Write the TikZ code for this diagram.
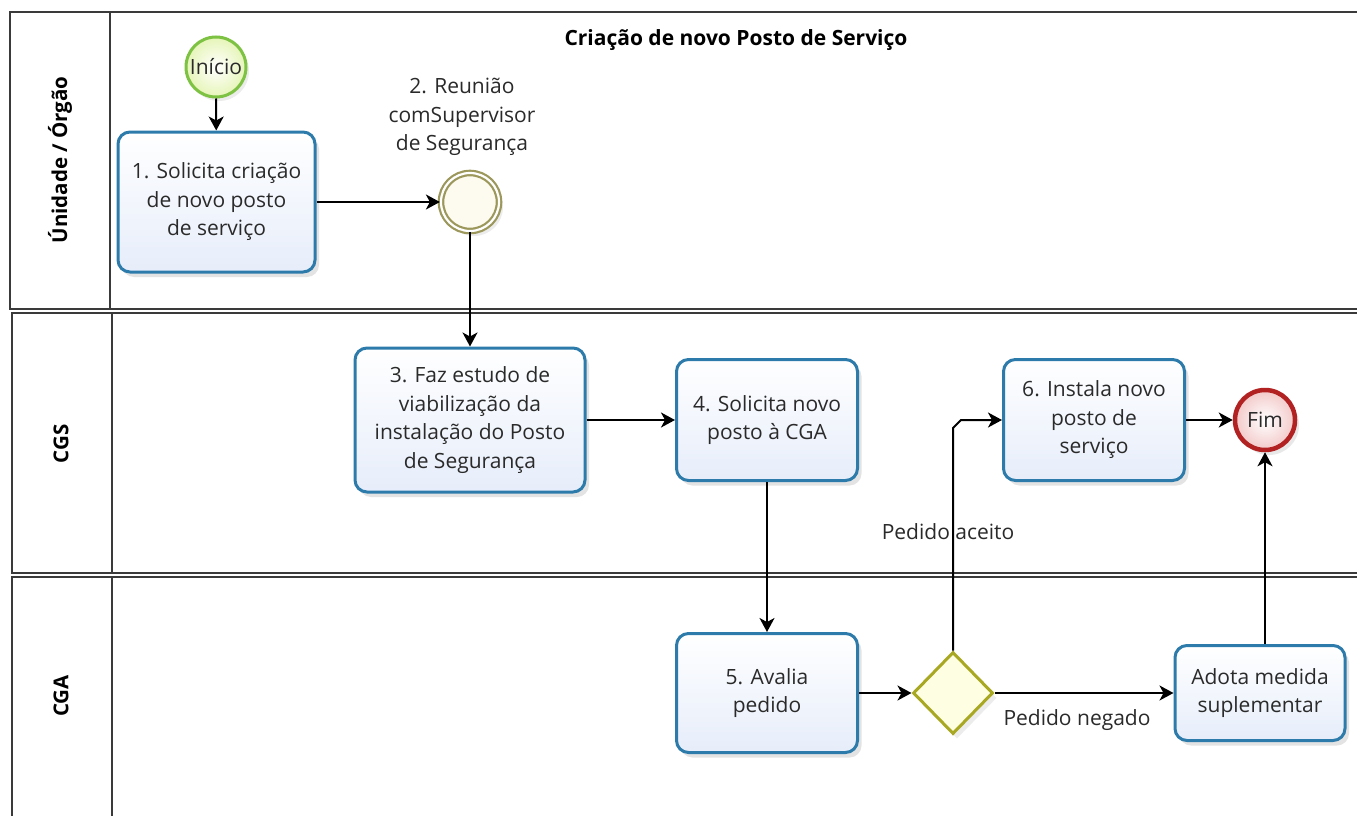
\documentclass[tikz,border=0pt]{standalone}
\usepackage{fontspec}
\setmainfont{Open Sans}
\usetikzlibrary{shapes.geometric,arrows.meta,shadows}
\definecolor{lane}{HTML}{3A3A3A}
\definecolor{taskdraw}{HTML}{2C7BAA}
\definecolor{taskfill}{HTML}{E6EDFA}
\definecolor{startdraw}{HTML}{7DC242}
\definecolor{startfill}{HTML}{E6F5B8}
\definecolor{enddraw}{HTML}{B22222}
\definecolor{endfill}{HTML}{F3C9C9}
\definecolor{interdraw}{HTML}{9C975A}
\definecolor{interfill}{HTML}{FDFAEF}
\definecolor{gwdraw}{HTML}{A8A823}
\definecolor{gwfill}{HTML}{FEFEE2}
\definecolor{txt}{HTML}{2A2A2A}
\tikzset{
  lanebox/.style={draw=lane, line width=2pt},
  lanelabel/.style={rotate=90, font=\fontsize{20.5}{22}\selectfont\bfseries, text=black},
  task/.style={draw=taskdraw, line width=3pt, rounded corners=12pt, top color=white, bottom color=taskfill,
    align=center, text=txt, font=\fontsize{21}{28.5}\selectfont, inner sep=0pt,
    drop shadow={opacity=0.22, shadow xshift=4pt, shadow yshift=-5pt}},
  flow/.style={draw=black, line width=2pt, -{Stealth[length=14pt,width=15pt,inset=4pt]}},
  lbl/.style={text=txt, font=\fontsize{21}{28.5}\selectfont, align=center},
}
\begin{document}
\begin{tikzpicture}[x=1pt,y=-1pt]
\useasboundingbox (0,0) rectangle (1357,816);
\fill[white] (0,0) rectangle (1357,816);
% lanes
\draw[lanebox] (1370,12) -- (10,12) -- (10,309) -- (1370,309);
\draw[lanebox] (110,12) -- (110,309);
\draw[lanebox] (1370,313) -- (12,313) -- (12,573) -- (1370,573);
\draw[lanebox] (112,313) -- (112,573);
\draw[lanebox] (1370,577) -- (12,577) -- (12,830);
\draw[lanebox] (112,577) -- (112,830);
\node[lanelabel] (l1) at (60,160) {Únidade / Órgão};
\node[lanelabel] (l2) at (61,444) {CGS};
\node[lanelabel] (l3) at (61,696) {CGA};
\node[font=\fontsize{21}{22}\selectfont\bfseries, text=black] (title) at (736,40) {Criação de novo Posto de Serviço};
% events
\node[circle, draw=startdraw, line width=3pt, inner color=white, outer color=startfill, minimum size=60pt, inner sep=0pt,
  font=\fontsize{21}{24}\selectfont, text=txt, drop shadow={opacity=0.15, shadow xshift=3pt, shadow yshift=-4pt}] (start) at (216,67) {Início};
\node[circle, draw=interdraw, line width=2.2pt, double=white, double distance=2.2pt, fill=interfill, minimum size=58pt, inner sep=0pt,
  drop shadow={opacity=0.15, shadow xshift=4pt, shadow yshift=-5pt}] (ev2) at (470,202) {};
\node[lbl] (ev2l) at (462,117) {2. Reunião\\comSupervisor\\de Segurança};
\node[circle, draw=enddraw, line width=4.5pt, inner color=white, outer color=endfill, minimum size=60pt, inner sep=0pt,
  font=\fontsize{21}{24}\selectfont, text=txt, drop shadow={opacity=0.18, shadow xshift=4pt, shadow yshift=-5pt}] (fim) at (1265,420) {Fim};
% tasks
\node[task, minimum width=197pt, minimum height=140pt] (t1) at (216.5,202) {1. Solicita criação\\de novo posto\\de serviço};
\node[task, minimum width=230pt, minimum height=144pt] (t3) at (470,420) {3. Faz estudo de\\viabilização da\\instalação do Posto\\de Segurança};
\node[task, minimum width=181pt, minimum height=121pt] (t4) at (767,420) {4. Solicita novo\\posto à CGA};
\node[task, minimum width=181pt, minimum height=119pt] (t5) at (767,693) {5. Avalia\\pedido};
\node[task, minimum width=181pt, minimum height=121pt] (t6) at (1094,420) {6. Instala novo\\posto de\\serviço};
\node[task, minimum width=170pt, minimum height=95pt] (t7) at (1260,693) {Adota medida\\suplementar};
% gateway
\node[diamond, draw=gwdraw, line width=3pt, fill=gwfill, minimum width=80pt, minimum height=82pt, inner sep=0pt,
  drop shadow={opacity=0.15, shadow xshift=4pt, shadow yshift=-5pt}] (gw) at (953,693) {};
% flows
\draw[flow] (start) -- (t1);
\draw[flow] (t1.east |- ev2) -- (ev2);
\draw[flow] (ev2) -- (ev2 |- t3.north);
\draw[flow] (t3.east |- t4) -- (t4);
\draw[flow] (t4) -- (t5);
\draw[flow] (t5.east |- gw) -- (gw);
\coordinate (c1) at (953,428);
\coordinate (c2) at (961,420);
\node[lbl] (acc) at (948,532) {Pedido aceito};
\draw[flow] (gw.north) -- (c1) -- (c2) -- (t6.west |- c2);
\draw[flow] (t6) -- (fim);
\draw[flow] (gw.east) -- (t7.west |- gw);
\node[lbl] (neg) at (1077,720) {Pedido negado};
\draw[flow] (t7.north -| fim) -- (fim);
\end{tikzpicture}
\end{document}
